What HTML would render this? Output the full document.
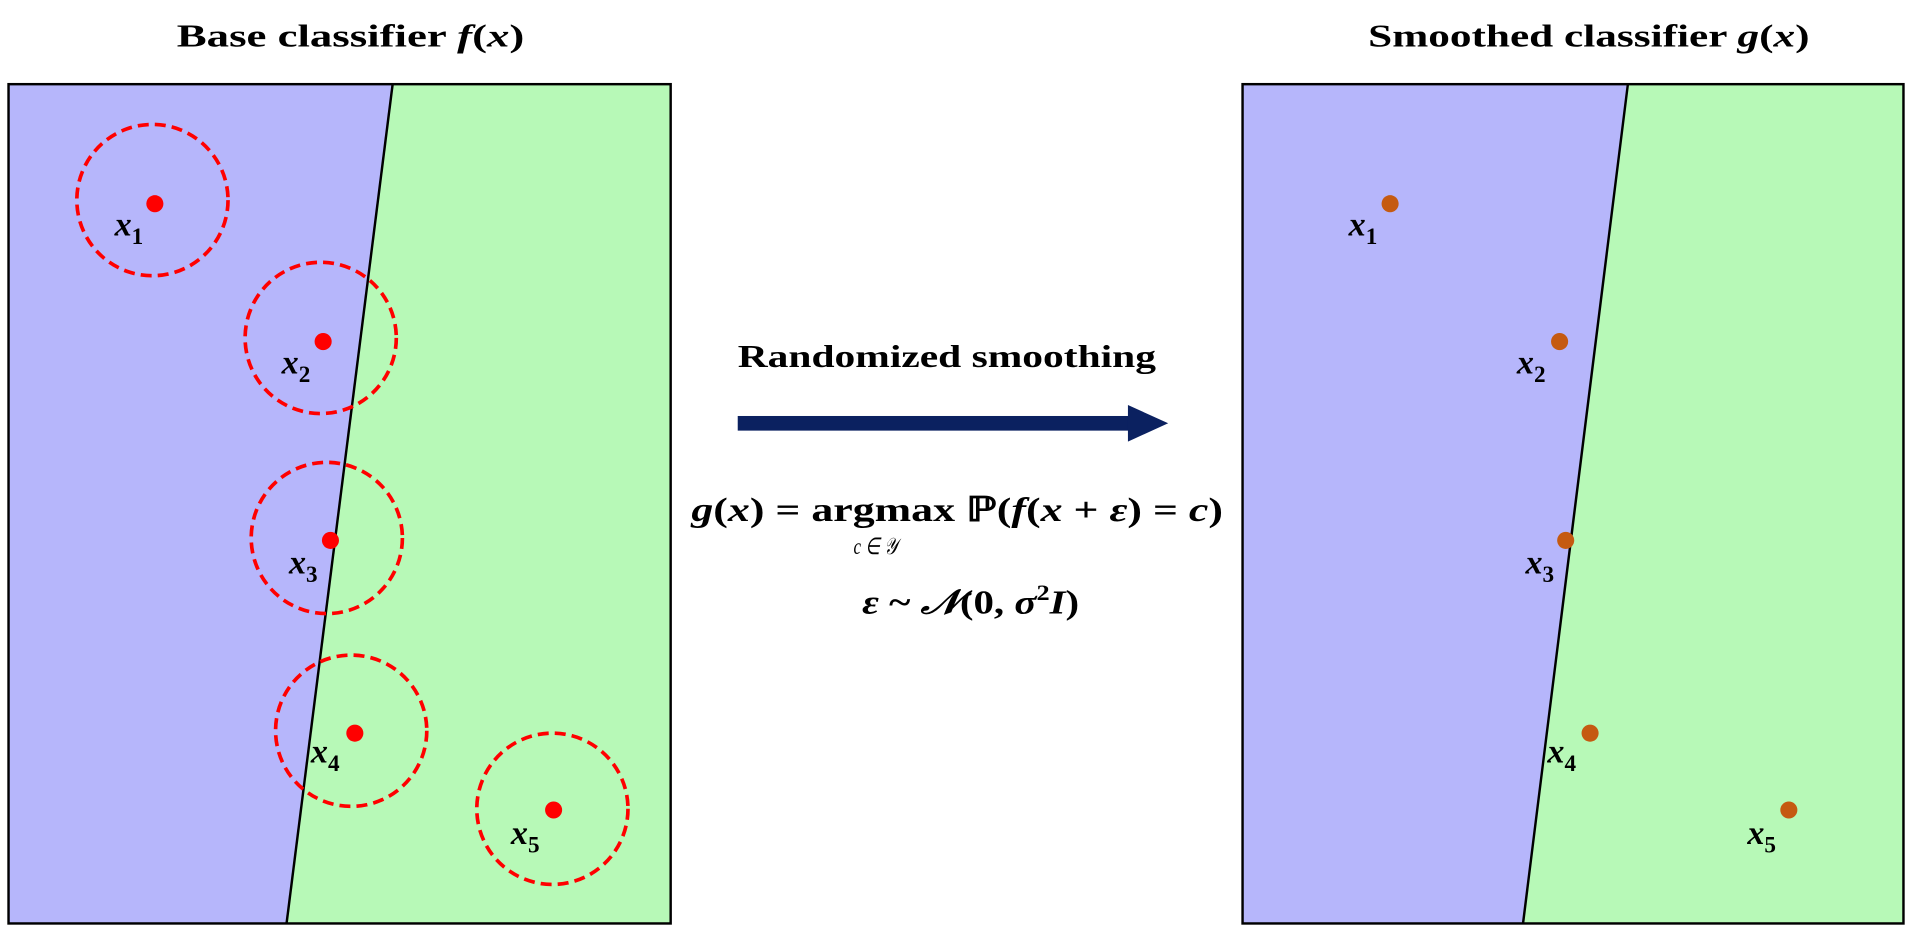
<!DOCTYPE html>
<html><head><meta charset="utf-8"><style>
html,body{margin:0;padding:0;background:#fff;width:1912px;height:932px;overflow:hidden}
svg{display:block}
text{font-family:"Liberation Serif",serif;fill:#000}
.t{font-weight:bold;font-size:26px}
.m{font-weight:bold;font-style:italic;font-size:28px}
.s{font-weight:bold;font-size:19px}
</style></head><body>
<svg width="1912" height="932" viewBox="0 0 1568 764" preserveAspectRatio="none" xmlns="http://www.w3.org/2000/svg">
<text class="t" x="145" y="38" textLength="285" lengthAdjust="spacingAndGlyphs">Base classifier  <tspan font-style="italic">f</tspan>(<tspan font-style="italic">x</tspan>)</text>
<text class="t" x="1122" y="38" textLength="362" lengthAdjust="spacingAndGlyphs">Smoothed classifier  <tspan font-style="italic">g</tspan>(<tspan font-style="italic">x</tspan>)</text>

<polygon points="7,69 322,69 235,757 7,757" fill="#b6b6fb"/>
<polygon points="322,69 550,69 550,757 235,757" fill="#b7f9b7"/>
<line x1="322" y1="69" x2="235" y2="757" stroke="#000" stroke-width="2"/>
<rect x="7" y="69" width="543" height="688" fill="none" stroke="#000" stroke-width="2"/>

<g fill="none" stroke="#f00" stroke-width="3" stroke-dasharray="9,5">
<circle cx="125" cy="164" r="62"/><circle cx="263" cy="277" r="62"/><circle cx="268" cy="441" r="62"/><circle cx="288" cy="599" r="62"/><circle cx="453" cy="663" r="62"/>
</g>
<g fill="#f00">
<circle cx="127" cy="167" r="7"/><circle cx="265" cy="280" r="7"/><circle cx="271" cy="443" r="7"/><circle cx="291" cy="601" r="7"/><circle cx="454" cy="664" r="7"/>
</g>
<g class="m">
<text x="94" y="193">x<tspan class="s" dy="7" font-style="normal">1</tspan></text>
<text x="231" y="306">x<tspan class="s" dy="7" font-style="normal">2</tspan></text>
<text x="237" y="470">x<tspan class="s" dy="7" font-style="normal">3</tspan></text>
<text x="255" y="625">x<tspan class="s" dy="7" font-style="normal">4</tspan></text>
<text x="419" y="692">x<tspan class="s" dy="7" font-style="normal">5</tspan></text>
</g>

<polygon points="1019,69 1335,69 1249,757 1019,757" fill="#b6b6fb"/>
<polygon points="1335,69 1561,69 1561,757 1249,757" fill="#b7f9b7"/>
<line x1="1335" y1="69" x2="1249" y2="757" stroke="#000" stroke-width="2"/>
<rect x="1019" y="69" width="542" height="688" fill="none" stroke="#000" stroke-width="2"/>
<g fill="#c55a11">
<circle cx="1140" cy="167" r="7"/><circle cx="1279" cy="280" r="7"/><circle cx="1284" cy="443" r="7"/><circle cx="1304" cy="601" r="7"/><circle cx="1467" cy="664" r="7"/>
</g>
<g class="m">
<text x="1106" y="193">x<tspan class="s" dy="7" font-style="normal">1</tspan></text>
<text x="1244" y="306">x<tspan class="s" dy="7" font-style="normal">2</tspan></text>
<text x="1251" y="470">x<tspan class="s" dy="7" font-style="normal">3</tspan></text>
<text x="1269" y="625">x<tspan class="s" dy="7" font-style="normal">4</tspan></text>
<text x="1433" y="692">x<tspan class="s" dy="7" font-style="normal">5</tspan></text>
</g>

<text class="t" x="605" y="301" textLength="343" lengthAdjust="spacingAndGlyphs">Randomized smoothing</text>
<rect x="605" y="341" width="322" height="12" fill="#0b2160"/>
<polygon points="925,332 958,347 925,362" fill="#0b2160"/>

<text x="567" y="427" font-size="28" font-weight="bold" textLength="436" lengthAdjust="spacingAndGlyphs"><tspan font-style="italic">g</tspan>(<tspan font-style="italic">x</tspan>) = argmax ℙ(<tspan font-style="italic">f</tspan>(<tspan font-style="italic">x</tspan> + <tspan font-style="italic">ε</tspan>) = <tspan font-style="italic">c</tspan>)</text>
<text x="700" y="454" font-size="19" font-style="italic" textLength="36" lengthAdjust="spacingAndGlyphs">c ∈ 𝒴</text>
<text x="707" y="503" font-size="28" font-weight="bold" textLength="178" lengthAdjust="spacingAndGlyphs"><tspan font-style="italic">ε</tspan> ~ <tspan font-style="italic">𝒩</tspan>(0, <tspan font-style="italic">σ</tspan><tspan font-size="18" dy="-11">2</tspan><tspan dy="11" font-style="italic">I</tspan>)</text>
</svg>
</body></html>
